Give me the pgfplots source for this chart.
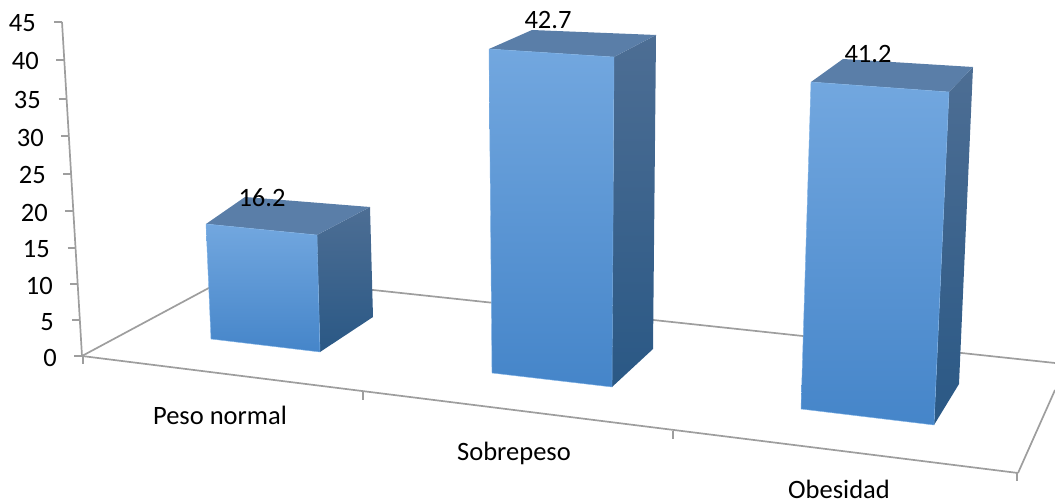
\documentclass[border=0pt]{standalone}
\usepackage{fontspec}
\setmainfont{Carlito}
\usepackage{pgfplots}
\pgfplotsset{compat=1.18}

\definecolor{axisgray}{HTML}{9E9E9E}
\definecolor{frontTop}{HTML}{72A7DF}
\definecolor{frontMid}{HTML}{5A9BDD}
\definecolor{frontBot}{HTML}{4585C9}
\definecolor{sideTop}{HTML}{4D6E94}
\definecolor{sideBot}{HTML}{2A5885}
\definecolor{roof}{HTML}{5A7EA8}
\definecolor{rim}{HTML}{7FB2E6}

% One vertical edge of a column: name, foot (x, y), drift per unit of value (x, y)
\newcommand{\edge}[5]{%
  \expandafter\def\csname #1bx\endcsname{#2}%
  \expandafter\def\csname #1by\endcsname{#3}%
  \expandafter\def\csname #1rx\endcsname{#4}%
  \expandafter\def\csname #1ry\endcsname{#5}}

% Column in perspective: the four top corners follow from the value
\newcommand{\column}[1]{%
  \pgfmathsetmacro{\flx}{\flbx+#1*\flrx}\pgfmathsetmacro{\fly}{\flby+#1*\flry}%
  \pgfmathsetmacro{\frx}{\frbx+#1*\frrx}\pgfmathsetmacro{\fry}{\frby+#1*\frry}%
  \pgfmathsetmacro{\brx}{\brbx+#1*\brrx}\pgfmathsetmacro{\bry}{\brby+#1*\brry}%
  \pgfmathsetmacro{\blx}{\blbx+#1*\blrx}\pgfmathsetmacro{\bly}{\blby+#1*\blry}%
  \addplot[draw=none, shade, shading angle=-12, top color=sideTop, bottom color=sideBot]
    coordinates {(\frbx,\frby) (\brbx,\brby) (\brx,\bry) (\frx,\fry)} --cycle;
  \addplot[draw=none, fill=roof]
    coordinates {(\flx,\fly) (\frx,\fry) (\brx,\bry) (\blx,\bly)} --cycle;
  \addplot[draw=rim, line width=0.4pt, shade, top color=frontTop, middle color=frontMid, bottom color=frontBot]
    coordinates {(\flbx,\flby) (\frbx,\frby) (\frx,\fry) (\flx,\fly)} --cycle;
}

\newcommand{\seg}[4]{\addplot[axisgray, line width=1.7pt] coordinates {(#1,#2) (#3,#4)};}
\newcommand{\ylab}[3]{\node[anchor=east, inner sep=0pt] at (axis cs:#1,#2) {#3};}

\begin{document}
\begin{tikzpicture}
\path[use as bounding box] (0,0) rectangle (1055pt,503pt);
\begin{axis}[
  at={(0,0)}, anchor=south west,
  scale only axis, width=1055pt, height=503pt,
  xmin=0, xmax=1055, ymin=0, ymax=503, y dir=reverse,
  hide axis, no markers,
  font=\fontsize{26.5}{31}\selectfont,
  clip=true,
]
% floor and wall lines
\seg{82}{356}{233}{275}
\seg{233}{275}{1055}{363}
\seg{82}{356}{1018}{473}
\seg{1018}{473}{1055}{390}
\seg{62}{22}{82}{356}

% value axis ticks
\seg{54}{22}{62}{22}
\seg{56}{60}{64.3}{60}
\seg{58.5}{99}{66.6}{99}
\seg{61}{136}{68.8}{136}
\seg{63}{174}{71.1}{174}
\seg{65}{211}{73.3}{211}
\seg{67.5}{248}{75.5}{248}
\seg{70}{284}{77.7}{284}
\seg{72}{320}{79.8}{320}
\seg{74}{356}{82}{356}

% category ticks
\seg{83}{356}{83}{364}
\seg{363}{392}{363}{400}
\seg{673}{431}{673}{439}
\seg{1017}{473}{1017}{481}

% Peso normal
\edge{fl}{211}{339}{-0.3086}{-7.099}
\edge{fr}{320}{352}{-0.1852}{-7.222}
\edge{br}{373}{317}{-0.1852}{-6.790}
\edge{bl}{250}{309}{-0.3086}{-6.914}
\column{16.2}

% Sobrepeso
\edge{fl}{492}{373}{-0.0703}{-7.588}
\edge{fr}{612}{387}{0.0468}{-7.728}
\edge{br}{653}{349}{0.0703}{-7.354}
\edge{bl}{532}{340}{0}{-7.260}
\column{42.7}

% Obesidad
\edge{fl}{801}{409}{0.2427}{-7.937}
\edge{fr}{934}{425}{0.3641}{-8.083}
\edge{br}{959}{384}{0.3398}{-7.694}
\edge{bl}{830}{370}{0.3155}{-7.549}
\column{41.2}

% value axis labels
\ylab{36}{23}{45}
\ylab{39}{61}{40}
\ylab{41}{100}{35}
\ylab{44}{138}{30}
\ylab{46}{175}{25}
\ylab{48}{213}{20}
\ylab{50}{249}{15}
\ylab{53}{286}{10}
\ylab{54}{322}{5}
\ylab{57}{358}{0}

% category labels
\node[anchor=base, inner sep=0pt] at (axis cs:220,424) {Peso normal};
\node[anchor=base, inner sep=0pt] at (axis cs:514,460) {Sobrepeso};
\node[anchor=base, inner sep=0pt] at (axis cs:839,498) {Obesidad};

% value labels
\node[anchor=base, inner sep=0pt] at (axis cs:262,206) {16.2};
\node[anchor=base, inner sep=0pt] at (axis cs:548,29) {42.7};
\node[anchor=base, inner sep=0pt] at (axis cs:868,63) {41.2};
\end{axis}
\end{tikzpicture}
\end{document}
